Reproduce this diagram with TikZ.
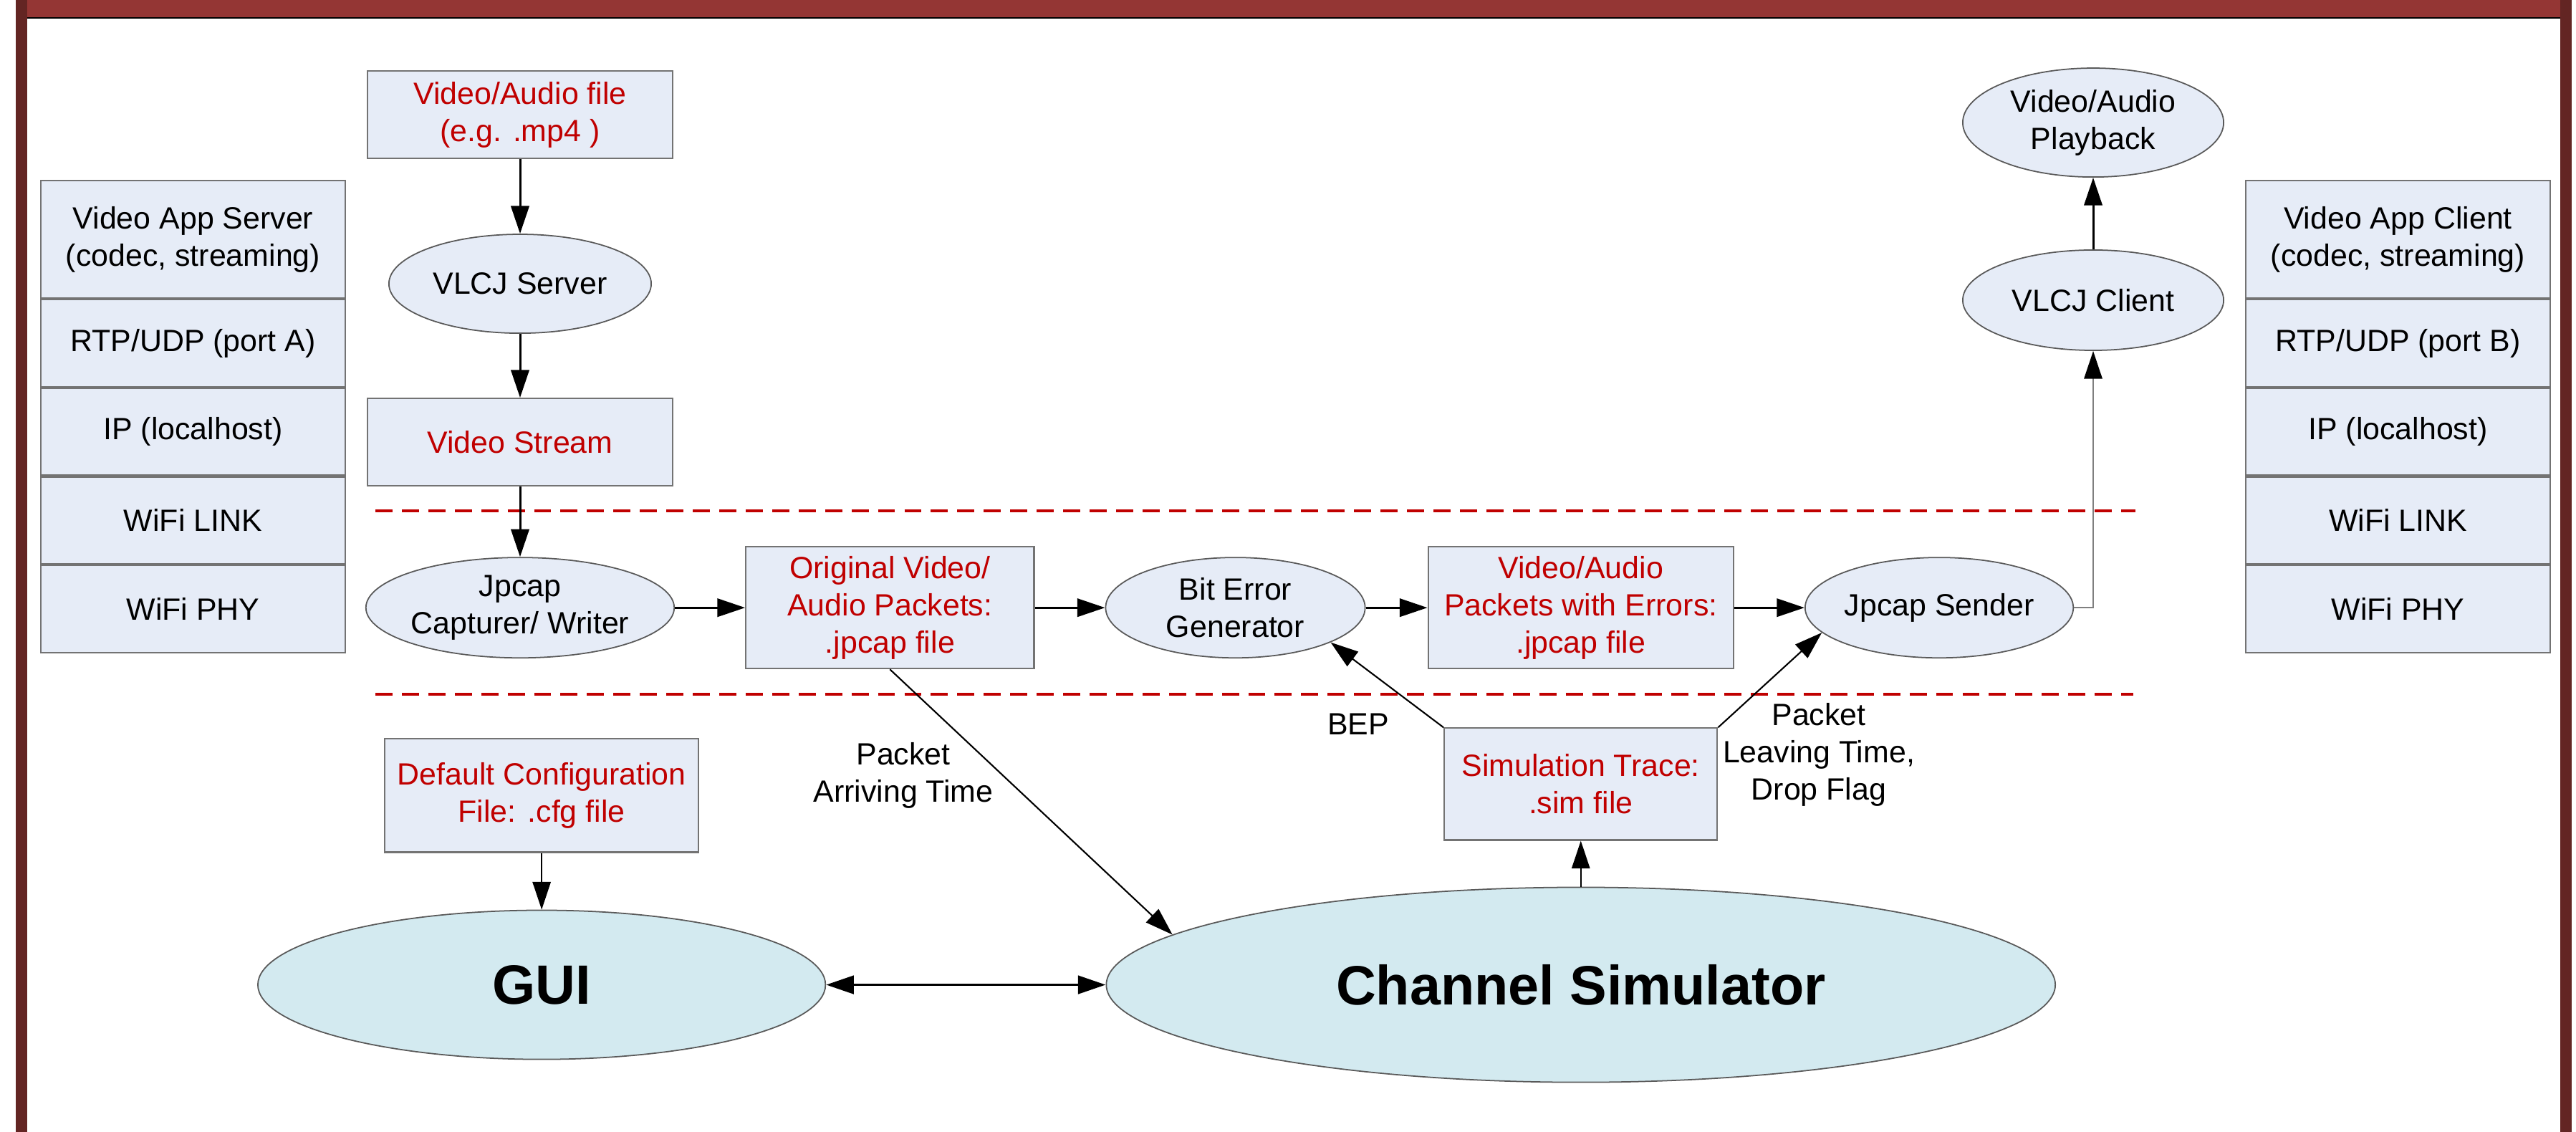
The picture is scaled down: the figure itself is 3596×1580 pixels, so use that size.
\documentclass[tikz,border=0pt]{standalone}
\usepackage{fontspec}
\setmainfont{Liberation Sans}
\usepackage{tikz}
\usetikzlibrary{arrows.meta, positioning, shapes.geometric}
\definecolor{barred}{HTML}{943634}
\definecolor{edgered}{HTML}{632523}
\definecolor{boxfill}{HTML}{E6ECF7}
\definecolor{simfill}{HTML}{D3EAF0}
\definecolor{txtred}{HTML}{C00000}
\definecolor{linegray}{HTML}{7F7F7F}
\newcommand{\nodefont}{\fontsize{12.2}{14.8}\selectfont}
\newcommand{\bigfont}{\fontsize{22}{26}\selectfont\bfseries}
\tikzset{
>={Triangle[length=11pt,width=7.2pt]}, % long filled heads
box/.style={rectangle, draw=black!55, line width=0.6pt, fill=boxfill, inner sep=2pt, align=center, font=\nodefont, text=txtred},
layer/.style={box, text=black, minimum width=4.25cm, minimum height=1.215cm},
proc/.style={ellipse, draw=black!65, line width=0.5pt, fill=boxfill, inner sep=0pt, align=center, font=\nodefont},
bigproc/.style={proc, fill=simfill, font=\bigfont},
lbl/.style={align=center, font=\nodefont},
flow/.style={->, line width=0.85pt},
ref/.style={->, line width=0.6pt},
sep/.style={draw=txtred, line width=1pt, dash pattern=on 6.8pt off 3.7pt},
}
\begin{document}
\begin{tikzpicture}[x=0.01cm, y=-0.01cm]
  \useasboundingbox (0,0) rectangle (3596,1580);
  % frame
  \fill[barred] (22,0) rectangle (3590,24);
  \draw[line width=0.6pt] (38,25) -- (3574,25);
  \fill[edgered] (22,0) rectangle (38,1580);
  \fill[edgered] (3574,0) rectangle (3590,1580);

  % protocol stacks
  \node[layer, minimum height=1.64cm] (srvapp) at (269.5,334) {Video App Server\\(codec, streaming)};
  \node[layer, below=0pt of srvapp] (srvrtp) {RTP/UDP (port A)};
  \node[layer, below=0pt of srvrtp] (srvip) {IP (localhost)};
  \node[layer, below=0pt of srvip] (srvlink) {WiFi LINK};
  \node[layer, below=0pt of srvlink] (srvphy) {WiFi PHY};
  \node[layer, minimum height=1.64cm] (cliapp) at (3347.5,334) {Video App Client\\(codec, streaming)};
  \node[layer, below=0pt of cliapp] (clirtp) {RTP/UDP (port B)};
  \node[layer, below=0pt of clirtp] (cliip) {IP (localhost)};
  \node[layer, below=0pt of cliip] (clilink) {WiFi LINK};
  \node[layer, below=0pt of clilink] (cliphy) {WiFi PHY};

  % server side
  \node[box, minimum width=4.26cm, minimum height=1.22cm] (vfile) at (726,160) {Video/Audio file\\(e.g. .mp4 )};
  \node[proc, minimum width=3.66cm, minimum height=1.38cm, below=1.04cm of vfile] (vlcjsrv) {VLCJ Server};
  \node[box, minimum width=4.25cm, minimum height=1.22cm, below=0.89cm of vlcjsrv] (vstream) {Video Stream};

  % packet path
  \node[proc, minimum width=4.12cm, minimum height=1.40cm, below=0.98cm of vstream] (capt) {Jpcap\\Capturer/ Writer};
  \node[box, minimum width=4.02cm, minimum height=1.70cm, right=0.98cm of capt] (orig) {Original Video/\\Audio Packets:\\.jpcap file};
  \node[proc, minimum width=3.62cm, minimum height=1.40cm, right=0.98cm of orig] (beg) {Bit Error\\Generator};
  \node[box, minimum width=4.26cm, minimum height=1.70cm, right=0.86cm of beg] (errs) {Video/Audio\\Packets with Errors:\\.jpcap file};
  \node[proc, minimum width=3.64cm, minimum height=1.40cm, right=0.98cm of errs] (sender) {Jpcap Sender};

  % client side
  \node[proc, minimum width=3.64cm, minimum height=1.40cm] (vlcjcli) at (2922,419) {VLCJ Client};
  \node[proc, minimum width=3.64cm, minimum height=1.52cm, above=1.00cm of vlcjcli] (playback) {Video/Audio\\Playback};

  % simulator
  \node[box, minimum width=3.81cm, minimum height=1.56cm, below=0.81cm of errs] (simtr) {Simulation Trace:\\.sim file};
  \node[bigproc, minimum width=13.24cm, minimum height=2.72cm, below=0.64cm of simtr] (chansim) {Channel Simulator};
  \node[bigproc, minimum width=7.92cm, minimum height=2.08cm, left=3.90cm of chansim] (gui) {GUI};
  \node[box, minimum width=4.38cm, minimum height=1.58cm, above=0.79cm of gui] (cfg) {Default Configuration\\File: .cfg file};

  \node[lbl] (arrlbl) at (1261,1082) {Packet\\Arriving Time};
  \node[lbl] (beplbl) at (1896,1011) {BEP};
  \node[lbl] (leavlbl) at (2539,1053) {Packet\\Leaving Time,\\Drop Flag};

  \draw[sep] (524,713) -- (2981,713);
  \draw[sep] (524,969) -- (2978,969);

  \draw[flow] (vfile) -- (vlcjsrv);
  \draw[flow] (vlcjsrv) -- (vstream);
  \draw[flow] (vstream) -- (capt);
  \draw[flow] (capt) -- (orig);
  \draw[flow] (orig) -- (beg);
  \draw[flow] (beg) -- (errs);
  \draw[flow] (errs) -- (sender);
  \draw[draw=linegray, line width=0.55pt, -{Triangle[length=11pt,width=7.2pt,color=black]}] (sender.east) -| (vlcjcli.south);
  \draw[flow] (vlcjcli) -- (playback);
  \draw[ref] (orig.south) -- (chansim.173);
  \draw[ref] (simtr.north west) -- (beg.-20);
  \draw[ref] (simtr.north east) -- (sender.-168);
  \draw[ref] (chansim) -- (simtr);
  \draw[ref] (cfg) -- (gui);
  \draw[<->, line width=1.1pt] (gui) -- (chansim);
\end{tikzpicture}
\end{document}
